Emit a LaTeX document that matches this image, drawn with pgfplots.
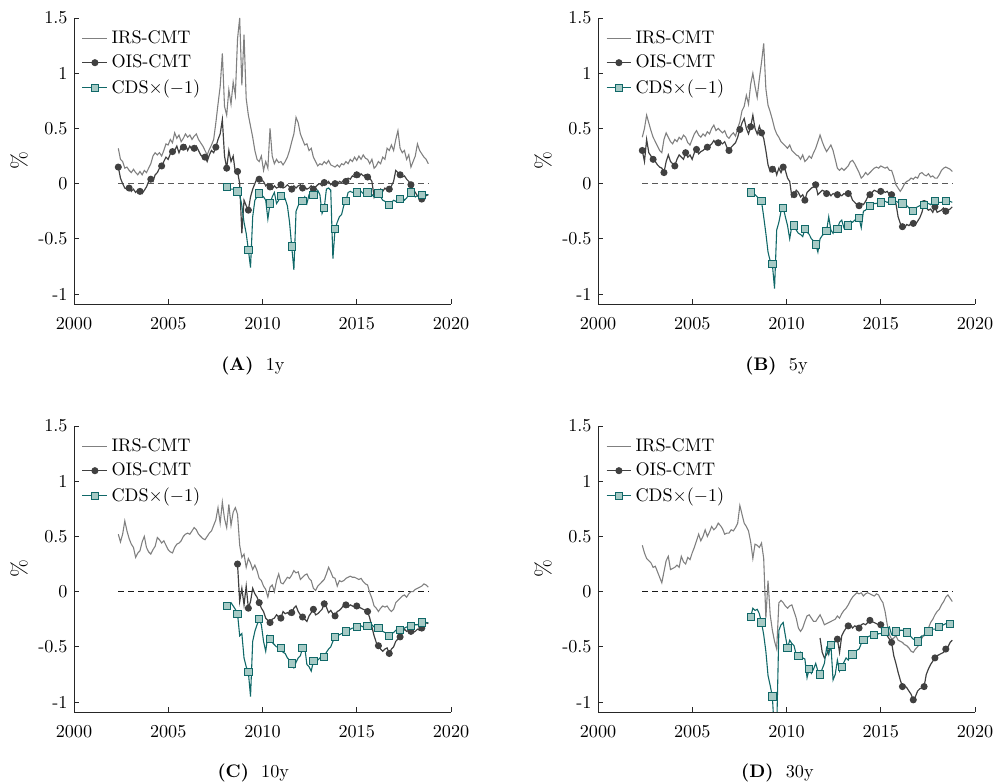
\documentclass[border=0pt]{standalone}
\usepackage{pgfplots}
\pgfplotsset{compat=1.18}
\definecolor{cIRS}{RGB}{128,128,128}
\definecolor{cOIS}{RGB}{64,64,64}
\definecolor{cCDS}{RGB}{16,104,104}
\definecolor{cCDSfill}{RGB}{166,202,197}
\pgfplotsset{
  panel/.style={
    scale only axis, width=207.35pt, height=157.3pt,
    xmin=2000, xmax=2020, ymin=-1.09, ymax=1.5,
    axis x line*=bottom, axis y line*=left,
    axis line style={black!85, line width=0.5pt, -},
    tick align=inside, major tick length=3pt,
    tick style={black!85, line width=0.5pt},
    xtick={2000,2005,2010,2015,2020},
    xticklabels={2000,2005,2010,2015,2020},
    ytick={-1,-0.5,0,0.5,1,1.5},
    yticklabels={-1,-0.5,0,0.5,1,1.5},
    xticklabel style={yshift=-4pt},
    ylabel={\%},
    ylabel style={font=\large, at={(axis description cs:-0.1456,0.5)}, anchor=center},
    legend cell align=left,
    legend style={draw=none, fill=none, at={(0.02,0.971)}, anchor=north west,
      row sep=1pt, inner sep=0pt, font=\normalsize},
    legend image code/.code={\draw[mark repeat=2,mark phase=2,##1] plot coordinates {(0cm,0cm) (0.24cm,0cm) (0.48cm,0cm)};},
  },
  sIRS/.style={cIRS, line width=0.6pt, no markers},
  sOIS/.style={cOIS, line width=0.65pt, mark=*, mark size=1.6pt, mark repeat=5,
    mark options={fill=cOIS, draw=cOIS, solid}},
  sCDS/.style={cCDS, line width=0.6pt, mark=square*, mark size=2.0pt, mark repeat=5,
    mark options={fill=cCDSfill, draw=cCDS, solid, line width=0.5pt}},
  table/tabfull/.style={header=false, row sep=\\, x expr=2002.35+0.115*\coordindex, y index=0},
  table/tabcds/.style={header=false, row sep=\\, x expr=2002.35+0.115*(\coordindex+50), y index=0},
}
\begin{document}
\begin{tikzpicture}
\path[use as bounding box] (0,0) rectangle (548.9pt,430.65pt);

% ---------------- (A) 1y
\begin{axis}[panel, at={(40.7pt,263.45pt)}, anchor=south west]
\addplot[forget plot, black!65, dash pattern=on 3.3pt off 2.2pt, line width=0.6pt] coordinates {(2002.35,0) (2018.8,0)};
\addplot[sIRS] table[tabfull] {
0.32\\ 0.22\\ 0.20\\ 0.14\\ 0.15\\ 0.12\\ 0.10\\ 0.13\\ 0.10\\ 0.08\\
0.11\\ 0.08\\ 0.12\\ 0.10\\ 0.14\\ 0.18\\ 0.25\\ 0.28\\ 0.26\\ 0.28\\
0.25\\ 0.30\\ 0.36\\ 0.35\\ 0.40\\ 0.37\\ 0.46\\ 0.41\\ 0.44\\ 0.38\\
0.41\\ 0.45\\ 0.42\\ 0.44\\ 0.40\\ 0.43\\ 0.45\\ 0.40\\ 0.37\\ 0.34\\
0.30\\ 0.26\\ 0.31\\ 0.35\\ 0.40\\ 0.55\\ 0.72\\ 0.88\\ 1.18\\ 0.70\\
0.62\\ 0.85\\ 0.72\\ 0.92\\ 0.80\\ 1.31\\ 1.50\\ 0.89\\ 1.35\\ 0.77\\
0.62\\ 0.52\\ 0.42\\ 0.30\\ 0.22\\ 0.20\\ 0.25\\ 0.12\\ 0.20\\ 0.14\\
0.50\\ 0.25\\ 0.18\\ 0.22\\ 0.19\\ 0.20\\ 0.17\\ 0.20\\ 0.24\\ 0.30\\
0.38\\ 0.45\\ 0.60\\ 0.55\\ 0.45\\ 0.40\\ 0.35\\ 0.36\\ 0.30\\ 0.32\\
0.24\\ 0.20\\ 0.16\\ 0.18\\ 0.17\\ 0.20\\ 0.18\\ 0.21\\ 0.17\\ 0.16\\
0.15\\ 0.17\\ 0.15\\ 0.18\\ 0.17\\ 0.20\\ 0.18\\ 0.22\\ 0.20\\ 0.24\\
0.21\\ 0.25\\ 0.22\\ 0.26\\ 0.23\\ 0.22\\ 0.18\\ 0.22\\ 0.14\\ 0.16\\
0.20\\ 0.18\\ 0.24\\ 0.22\\ 0.32\\ 0.30\\ 0.35\\ 0.30\\ 0.40\\ 0.48\\
0.32\\ 0.28\\ 0.30\\ 0.22\\ 0.26\\ 0.15\\ 0.20\\ 0.25\\ 0.36\\ 0.30\\
0.27\\ 0.24\\ 0.22\\ 0.18\\
};
\addplot[sOIS] table[tabfull] {
0.15\\ 0.05\\ 0.00\\ -0.04\\ -0.05\\ -0.04\\ -0.07\\ -0.05\\ -0.08\\ -0.06\\
-0.07\\ -0.09\\ -0.06\\ -0.03\\ 0.02\\ 0.04\\ 0.02\\ 0.08\\ 0.10\\ 0.14\\
0.16\\ 0.20\\ 0.24\\ 0.22\\ 0.27\\ 0.29\\ 0.30\\ 0.34\\ 0.28\\ 0.33\\
0.33\\ 0.35\\ 0.30\\ 0.34\\ 0.31\\ 0.32\\ 0.34\\ 0.30\\ 0.26\\ 0.24\\
0.24\\ 0.20\\ 0.26\\ 0.30\\ 0.28\\ 0.33\\ 0.40\\ 0.45\\ 0.58\\ 0.25\\
0.14\\ 0.30\\ 0.20\\ 0.25\\ 0.10\\ 0.11\\ 0.00\\ -0.45\\ -0.15\\ -0.20\\
-0.24\\ -0.12\\ -0.05\\ 0.00\\ 0.05\\ 0.04\\ 0.03\\ 0.02\\ -0.02\\ 0.00\\
-0.03\\ -0.05\\ -0.02\\ -0.04\\ -0.03\\ -0.01\\ -0.04\\ -0.03\\ -0.01\\ -0.03\\
-0.05\\ -0.02\\ -0.04\\ -0.02\\ -0.01\\ -0.04\\ -0.03\\ -0.05\\ -0.04\\ -0.02\\
-0.05\\ -0.03\\ -0.01\\ 0.00\\ -0.02\\ 0.01\\ 0.00\\ 0.02\\ -0.01\\ 0.01\\
0.00\\ -0.01\\ 0.02\\ 0.01\\ 0.03\\ 0.02\\ 0.05\\ 0.04\\ 0.07\\ 0.06\\
0.08\\ 0.06\\ 0.09\\ 0.07\\ 0.08\\ 0.06\\ 0.05\\ 0.02\\ -0.12\\ -0.06\\
-0.08\\ -0.05\\ -0.07\\ -0.04\\ -0.06\\ -0.05\\ -0.02\\ 0.02\\ 0.12\\ 0.10\\
0.08\\ 0.06\\ 0.07\\ 0.04\\ 0.02\\ -0.01\\ -0.05\\ -0.08\\ -0.11\\ -0.13\\
-0.14\\ -0.12\\ -0.11\\ -0.10\\
};
\addplot[sCDS] table[tabcds] {
-0.03\\ -0.04\\ -0.05\\ -0.05\\ -0.06\\ -0.07\\ -0.10\\ -0.20\\ -0.35\\ -0.45\\
-0.60\\ -0.76\\ -0.30\\ -0.15\\ -0.12\\ -0.09\\ -0.10\\ -0.12\\ -0.15\\ -0.32\\
-0.18\\ -0.12\\ -0.08\\ -0.18\\ -0.15\\ -0.11\\ -0.10\\ -0.14\\ -0.20\\ -0.35\\
-0.57\\ -0.78\\ -0.25\\ -0.20\\ -0.15\\ -0.16\\ -0.12\\ -0.18\\ -0.10\\ -0.06\\
-0.10\\ -0.05\\ -0.06\\ -0.10\\ -0.27\\ -0.22\\ -0.05\\ -0.04\\ -0.06\\ -0.68\\
-0.41\\ -0.35\\ -0.30\\ -0.28\\ -0.20\\ -0.16\\ -0.08\\ -0.07\\ -0.08\\ -0.07\\
-0.08\\ -0.08\\ -0.07\\ -0.09\\ -0.08\\ -0.08\\ -0.07\\ -0.10\\ -0.12\\ -0.10\\
-0.09\\ -0.12\\ -0.15\\ -0.16\\ -0.18\\ -0.19\\ -0.17\\ -0.15\\ -0.16\\ -0.14\\
-0.14\\ -0.12\\ -0.15\\ -0.13\\ -0.10\\ -0.08\\ -0.10\\ -0.12\\ -0.11\\ -0.10\\
-0.10\\ -0.10\\ -0.10\\ -0.10\\
};
\legend{IRS-CMT, OIS-CMT, CDS$\times(-1)$}
\end{axis}

% ---------------- (B) 5y
\begin{axis}[panel, at={(328.9pt,263.45pt)}, anchor=south west]
\addplot[forget plot, black!65, dash pattern=on 3.3pt off 2.2pt, line width=0.6pt] coordinates {(2002.35,0) (2018.8,0)};
\addplot[sIRS] table[tabfull] {
0.42\\ 0.50\\ 0.62\\ 0.55\\ 0.48\\ 0.42\\ 0.38\\ 0.34\\ 0.30\\ 0.28\\
0.40\\ 0.46\\ 0.42\\ 0.38\\ 0.36\\ 0.40\\ 0.38\\ 0.42\\ 0.40\\ 0.44\\
0.42\\ 0.37\\ 0.35\\ 0.40\\ 0.45\\ 0.48\\ 0.44\\ 0.42\\ 0.45\\ 0.43\\
0.47\\ 0.45\\ 0.50\\ 0.53\\ 0.48\\ 0.50\\ 0.48\\ 0.46\\ 0.48\\ 0.43\\
0.41\\ 0.44\\ 0.46\\ 0.43\\ 0.50\\ 0.56\\ 0.66\\ 0.70\\ 0.80\\ 0.72\\
0.90\\ 1.00\\ 0.88\\ 0.78\\ 0.95\\ 1.10\\ 1.27\\ 0.86\\ 0.71\\ 0.65\\
0.58\\ 0.50\\ 0.45\\ 0.42\\ 0.38\\ 0.36\\ 0.34\\ 0.32\\ 0.35\\ 0.30\\
0.28\\ 0.26\\ 0.25\\ 0.22\\ 0.26\\ 0.20\\ 0.22\\ 0.25\\ 0.23\\ 0.28\\
0.32\\ 0.38\\ 0.44\\ 0.38\\ 0.33\\ 0.29\\ 0.32\\ 0.35\\ 0.30\\ 0.22\\
0.14\\ 0.12\\ 0.14\\ 0.12\\ 0.14\\ 0.16\\ 0.20\\ 0.21\\ 0.18\\ 0.14\\
0.10\\ 0.05\\ 0.07\\ 0.10\\ 0.08\\ 0.10\\ 0.12\\ 0.14\\ 0.15\\ 0.14\\
0.16\\ 0.15\\ 0.14\\ 0.15\\ 0.12\\ 0.12\\ 0.06\\ -0.01\\ -0.04\\ -0.07\\
-0.04\\ 0.00\\ 0.02\\ 0.03\\ 0.05\\ 0.04\\ 0.06\\ 0.05\\ 0.09\\ 0.10\\
0.08\\ 0.07\\ 0.09\\ 0.06\\ 0.07\\ 0.05\\ 0.05\\ 0.08\\ 0.12\\ 0.14\\
0.15\\ 0.14\\ 0.13\\ 0.11\\
};
\addplot[sOIS] table[tabfull] {
0.30\\ 0.20\\ 0.40\\ 0.28\\ 0.25\\ 0.22\\ 0.20\\ 0.17\\ 0.15\\ 0.14\\
0.10\\ 0.20\\ 0.26\\ 0.20\\ 0.18\\ 0.16\\ 0.22\\ 0.26\\ 0.24\\ 0.22\\
0.28\\ 0.24\\ 0.26\\ 0.22\\ 0.28\\ 0.31\\ 0.27\\ 0.29\\ 0.30\\ 0.32\\
0.33\\ 0.34\\ 0.36\\ 0.39\\ 0.36\\ 0.37\\ 0.38\\ 0.36\\ 0.38\\ 0.33\\
0.30\\ 0.33\\ 0.35\\ 0.37\\ 0.42\\ 0.49\\ 0.55\\ 0.59\\ 0.50\\ 0.45\\
0.515\\ 0.62\\ 0.50\\ 0.45\\ 0.52\\ 0.46\\ 0.41\\ 0.30\\ 0.17\\ 0.11\\
0.13\\ 0.15\\ 0.08\\ 0.14\\ 0.10\\ 0.15\\ 0.12\\ 0.05\\ 0.02\\ -0.12\\
-0.10\\ -0.06\\ -0.08\\ -0.12\\ -0.10\\ -0.15\\ -0.08\\ -0.06\\ -0.04\\ -0.03\\
-0.01\\ -0.10\\ -0.08\\ -0.06\\ -0.07\\ -0.09\\ -0.08\\ -0.11\\ -0.09\\ -0.10\\
-0.10\\ -0.10\\ -0.11\\ -0.09\\ -0.10\\ -0.09\\ -0.10\\ -0.15\\ -0.17\\ -0.19\\
-0.20\\ -0.18\\ -0.19\\ -0.16\\ -0.12\\ -0.10\\ -0.08\\ -0.06\\ -0.07\\ -0.08\\
-0.07\\ -0.06\\ -0.08\\ -0.07\\ -0.10\\ -0.10\\ -0.14\\ -0.18\\ -0.30\\ -0.36\\
-0.39\\ -0.40\\ -0.37\\ -0.38\\ -0.36\\ -0.36\\ -0.37\\ -0.34\\ -0.31\\ -0.26\\
-0.18\\ -0.22\\ -0.24\\ -0.23\\ -0.26\\ -0.21\\ -0.26\\ -0.25\\ -0.24\\ -0.22\\
-0.25\\ -0.24\\ -0.23\\ -0.21\\
};
\addplot[sCDS] table[tabcds] {
-0.08\\ -0.08\\ -0.10\\ -0.12\\ -0.14\\ -0.16\\ -0.30\\ -0.45\\ -0.62\\ -0.70\\
-0.73\\ -0.95\\ -0.42\\ -0.35\\ -0.25\\ -0.22\\ -0.30\\ -0.38\\ -0.50\\ -0.38\\
-0.38\\ -0.42\\ -0.45\\ -0.46\\ -0.48\\ -0.41\\ -0.44\\ -0.46\\ -0.50\\ -0.52\\
-0.55\\ -0.62\\ -0.50\\ -0.47\\ -0.45\\ -0.43\\ -0.30\\ -0.42\\ -0.45\\ -0.40\\
-0.41\\ -0.35\\ -0.33\\ -0.40\\ -0.38\\ -0.38\\ -0.34\\ -0.35\\ -0.33\\ -0.32\\
-0.31\\ -0.40\\ -0.25\\ -0.24\\ -0.22\\ -0.20\\ -0.19\\ -0.18\\ -0.18\\ -0.17\\
-0.17\\ -0.17\\ -0.16\\ -0.17\\ -0.16\\ -0.16\\ -0.17\\ -0.16\\ -0.17\\ -0.17\\
-0.18\\ -0.20\\ -0.20\\ -0.22\\ -0.23\\ -0.25\\ -0.22\\ -0.21\\ -0.20\\ -0.20\\
-0.19\\ -0.18\\ -0.18\\ -0.19\\ -0.17\\ -0.16\\ -0.17\\ -0.17\\ -0.17\\ -0.16\\
-0.16\\ -0.16\\ -0.16\\ -0.17\\
};
\legend{IRS-CMT, OIS-CMT, CDS$\times(-1)$}
\end{axis}

% ---------------- (C) 10y
\begin{axis}[panel, at={(40.7pt,39.05pt)}, anchor=south west]
\addplot[forget plot, black!90, dash pattern=on 3.3pt off 2.2pt, line width=0.6pt] coordinates {(2002.35,0) (2018.8,0)};
\addplot[sIRS] table[tabfull] {
0.52\\ 0.45\\ 0.52\\ 0.64\\ 0.55\\ 0.48\\ 0.43\\ 0.40\\ 0.31\\ 0.35\\
0.37\\ 0.45\\ 0.50\\ 0.40\\ 0.36\\ 0.34\\ 0.38\\ 0.41\\ 0.49\\ 0.47\\
0.44\\ 0.46\\ 0.42\\ 0.38\\ 0.36\\ 0.35\\ 0.40\\ 0.43\\ 0.44\\ 0.46\\
0.50\\ 0.52\\ 0.53\\ 0.52\\ 0.55\\ 0.58\\ 0.56\\ 0.52\\ 0.50\\ 0.48\\
0.47\\ 0.50\\ 0.53\\ 0.55\\ 0.60\\ 0.65\\ 0.76\\ 0.62\\ 0.81\\ 0.66\\
0.58\\ 0.79\\ 0.60\\ 0.72\\ 0.76\\ 0.70\\ 0.42\\ 0.31\\ 0.34\\ 0.22\\
0.30\\ 0.26\\ 0.20\\ 0.24\\ 0.19\\ 0.12\\ 0.10\\ 0.05\\ 0.02\\ -0.05\\
0.04\\ 0.06\\ 0.00\\ 0.10\\ 0.16\\ 0.08\\ 0.07\\ 0.10\\ 0.13\\ 0.12\\
0.15\\ 0.19\\ 0.17\\ 0.18\\ 0.11\\ 0.13\\ 0.15\\ 0.16\\ 0.12\\ 0.10\\
0.03\\ 0.01\\ 0.05\\ 0.07\\ 0.09\\ 0.11\\ 0.16\\ 0.22\\ 0.18\\ 0.13\\
0.12\\ 0.05\\ 0.10\\ 0.09\\ 0.10\\ 0.12\\ 0.13\\ 0.14\\ 0.13\\ 0.13\\
0.12\\ 0.11\\ 0.12\\ 0.09\\ 0.07\\ 0.06\\ -0.01\\ -0.06\\ -0.13\\ -0.15\\
-0.18\\ -0.15\\ -0.13\\ -0.14\\ -0.13\\ -0.16\\ -0.18\\ -0.16\\ -0.10\\ -0.08\\
-0.06\\ -0.04\\ -0.03\\ -0.05\\ -0.02\\ 0.00\\ 0.00\\ 0.02\\ 0.03\\ 0.04\\
0.05\\ 0.07\\ 0.06\\ 0.04\\
};
\addplot[sOIS] table[header=false, row sep=\\, x expr=2002.35+0.115*(\coordindex+55), y index=0] {
0.25\\ -0.09\\ 0.03\\ -0.12\\ 0.05\\ -0.15\\ -0.09\\ 0.03\\ -0.02\\ -0.05\\
-0.10\\ -0.15\\ -0.18\\ -0.24\\ -0.26\\ -0.28\\ -0.25\\ -0.24\\ -0.21\\ -0.23\\
-0.24\\ -0.18\\ -0.20\\ -0.19\\ -0.21\\ -0.19\\ -0.15\\ -0.13\\ -0.18\\ -0.21\\
-0.23\\ -0.25\\ -0.27\\ -0.22\\ -0.19\\ -0.16\\ -0.21\\ -0.20\\ -0.18\\ -0.16\\
-0.11\\ -0.14\\ -0.19\\ -0.17\\ -0.20\\ -0.22\\ -0.18\\ -0.17\\ -0.15\\ -0.12\\
-0.12\\ -0.14\\ -0.12\\ -0.13\\ -0.14\\ -0.13\\ -0.14\\ -0.15\\ -0.16\\ -0.17\\
-0.18\\ -0.24\\ -0.32\\ -0.40\\ -0.46\\ -0.49\\ -0.52\\ -0.54\\ -0.52\\ -0.51\\
-0.56\\ -0.52\\ -0.50\\ -0.45\\ -0.43\\ -0.41\\ -0.37\\ -0.34\\ -0.36\\ -0.35\\
-0.36\\ -0.37\\ -0.36\\ -0.34\\ -0.35\\ -0.33\\ -0.32\\ -0.28\\ -0.29\\
};
\addplot[sCDS] table[tabcds] {
-0.13\\ -0.11\\ -0.10\\ -0.13\\ -0.16\\ -0.20\\ -0.40\\ -0.38\\ -0.60\\ -0.68\\
-0.73\\ -0.95\\ -0.45\\ -0.36\\ -0.30\\ -0.25\\ -0.30\\ -0.45\\ -0.54\\ -0.40\\
-0.43\\ -0.46\\ -0.48\\ -0.50\\ -0.50\\ -0.51\\ -0.55\\ -0.56\\ -0.60\\ -0.62\\
-0.65\\ -0.69\\ -0.64\\ -0.60\\ -0.58\\ -0.51\\ -0.50\\ -0.66\\ -0.68\\ -0.72\\
-0.63\\ -0.60\\ -0.62\\ -0.60\\ -0.58\\ -0.59\\ -0.55\\ -0.52\\ -0.50\\ -0.45\\
-0.41\\ -0.40\\ -0.39\\ -0.38\\ -0.37\\ -0.36\\ -0.35\\ -0.34\\ -0.33\\ -0.33\\
-0.32\\ -0.32\\ -0.31\\ -0.32\\ -0.31\\ -0.31\\ -0.30\\ -0.30\\ -0.32\\ -0.33\\
-0.33\\ -0.34\\ -0.36\\ -0.37\\ -0.38\\ -0.40\\ -0.38\\ -0.37\\ -0.35\\ -0.36\\
-0.35\\ -0.34\\ -0.33\\ -0.32\\ -0.32\\ -0.31\\ -0.31\\ -0.30\\ -0.30\\ -0.29\\
-0.28\\ -0.28\\ -0.28\\ -0.28\\
};
\legend{IRS-CMT, OIS-CMT, CDS$\times(-1)$}
\end{axis}

% ---------------- (D) 30y
\begin{axis}[panel, at={(328.9pt,39.05pt)}, anchor=south west]
\addplot[forget plot, black!90, dash pattern=on 3.3pt off 2.2pt, line width=0.6pt] coordinates {(2002.35,0) (2018.8,0)};
\addplot[sIRS] table[tabfull] {
0.42\\ 0.35\\ 0.30\\ 0.28\\ 0.26\\ 0.22\\ 0.23\\ 0.18\\ 0.13\\ 0.08\\
0.18\\ 0.28\\ 0.32\\ 0.20\\ 0.21\\ 0.22\\ 0.24\\ 0.22\\ 0.32\\ 0.27\\
0.25\\ 0.31\\ 0.29\\ 0.35\\ 0.40\\ 0.46\\ 0.52\\ 0.46\\ 0.50\\ 0.56\\
0.50\\ 0.54\\ 0.59\\ 0.56\\ 0.58\\ 0.62\\ 0.60\\ 0.57\\ 0.52\\ 0.53\\
0.53\\ 0.56\\ 0.55\\ 0.58\\ 0.62\\ 0.78\\ 0.70\\ 0.62\\ 0.59\\ 0.55\\
0.45\\ 0.30\\ 0.43\\ 0.42\\ 0.40\\ 0.44\\ 0.30\\ -0.24\\ 0.10\\ -0.21\\
-0.35\\ -0.45\\ -0.52\\ -0.10\\ -0.08\\ -0.10\\ -0.13\\ -0.15\\ -0.13\\ -0.12\\
-0.18\\ -0.24\\ -0.33\\ -0.36\\ -0.33\\ -0.27\\ -0.22\\ -0.21\\ -0.24\\ -0.27\\
-0.27\\ -0.24\\ -0.21\\ -0.25\\ -0.30\\ -0.29\\ -0.28\\ -0.27\\ -0.26\\ -0.25\\
-0.22\\ -0.24\\ -0.20\\ -0.17\\ -0.15\\ -0.12\\ -0.08\\ -0.05\\ -0.03\\ -0.01\\
-0.02\\ -0.01\\ -0.04\\ -0.02\\ -0.01\\ -0.02\\ -0.03\\ -0.04\\ -0.02\\ -0.03\\
-0.07\\ -0.10\\ -0.18\\ -0.30\\ -0.39\\ -0.43\\ -0.42\\ -0.40\\ -0.44\\ -0.45\\
-0.46\\ -0.48\\ -0.49\\ -0.51\\ -0.54\\ -0.55\\ -0.52\\ -0.50\\ -0.46\\ -0.42\\
-0.39\\ -0.36\\ -0.33\\ -0.28\\ -0.25\\ -0.21\\ -0.18\\ -0.16\\ -0.12\\ -0.09\\
-0.05\\ -0.03\\ -0.06\\ -0.09\\
};
\addplot[sOIS, mark phase=9] table[header=false, row sep=\\, x expr=2002.35+0.115*(\coordindex+82), y index=0] {
-0.42\\ -0.55\\ -0.60\\ -0.57\\ -0.53\\ -0.50\\ -0.48\\ -0.45\\ -0.43\\ -0.55\\
-0.40\\ -0.36\\ -0.33\\ -0.31\\ -0.30\\ -0.33\\ -0.31\\ -0.32\\ -0.33\\ -0.30\\
-0.29\\ -0.30\\ -0.28\\ -0.26\\ -0.27\\ -0.28\\ -0.29\\ -0.30\\ -0.30\\ -0.33\\
-0.36\\ -0.40\\ -0.43\\ -0.46\\ -0.58\\ -0.65\\ -0.73\\ -0.80\\ -0.86\\ -0.85\\
-0.87\\ -0.90\\ -0.93\\ -0.98\\ -0.95\\ -0.90\\ -0.88\\ -0.87\\ -0.86\\ -0.75\\
-0.70\\ -0.66\\ -0.63\\ -0.60\\ -0.58\\ -0.57\\ -0.56\\ -0.55\\ -0.52\\ -0.50\\
-0.46\\ -0.44\\
};
\addplot[sCDS] table[tabcds] {
-0.23\\ -0.15\\ -0.17\\ -0.16\\ -0.20\\ -0.28\\ -0.39\\ -0.54\\ -0.76\\ -0.85\\
-0.95\\ -1.30\\ -1.25\\ -0.35\\ -0.30\\ -0.28\\ -0.40\\ -0.51\\ -0.44\\ -0.47\\
-0.49\\ -0.57\\ -0.58\\ -0.55\\ -0.60\\ -0.61\\ -0.78\\ -0.70\\ -0.74\\ -0.70\\
-0.65\\ -0.72\\ -0.75\\ -0.70\\ -0.65\\ -0.51\\ -0.57\\ -0.48\\ -0.80\\ -0.75\\
-0.62\\ -0.72\\ -0.68\\ -0.64\\ -0.60\\ -0.62\\ -0.58\\ -0.57\\ -0.55\\ -0.53\\
-0.52\\ -0.47\\ -0.44\\ -0.42\\ -0.41\\ -0.40\\ -0.40\\ -0.39\\ -0.40\\ -0.38\\
-0.38\\ -0.37\\ -0.36\\ -0.34\\ -0.32\\ -0.39\\ -0.38\\ -0.36\\ -0.37\\ -0.35\\
-0.35\\ -0.36\\ -0.37\\ -0.38\\ -0.41\\ -0.43\\ -0.44\\ -0.45\\ -0.42\\ -0.40\\
-0.40\\ -0.38\\ -0.36\\ -0.35\\ -0.34\\ -0.34\\ -0.33\\ -0.32\\ -0.31\\ -0.30\\
-0.29\\ -0.30\\ -0.29\\ -0.29\\
};
\legend{IRS-CMT, OIS-CMT, CDS$\times(-1)$}
\end{axis}

\node at (139.1pt,229.6pt) {\textbf{(A)}\hspace{6.8pt}1y};
\node at (427.1pt,229.6pt) {\textbf{(B)}\hspace{6.8pt}5y};
\node at (139.3pt,5.8pt) {\textbf{(C)}\hspace{6.8pt}10y};
\node at (427.6pt,5.8pt) {\textbf{(D)}\hspace{6.8pt}30y};
\end{tikzpicture}
\end{document}
